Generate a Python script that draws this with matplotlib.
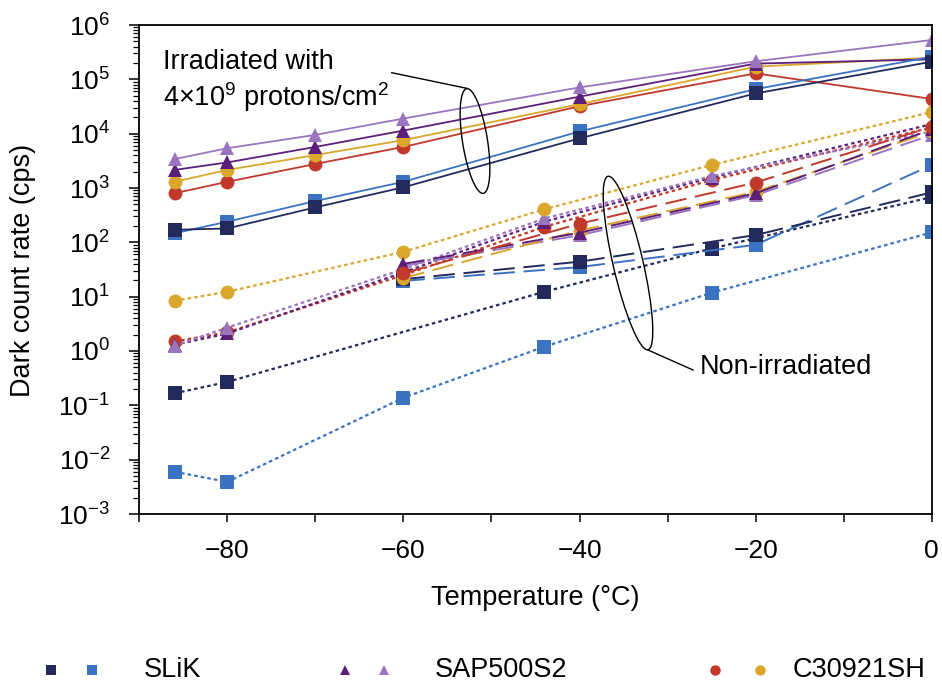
import matplotlib
matplotlib.use("Agg")
import matplotlib.pyplot as plt
from matplotlib.patches import Ellipse
from matplotlib.lines import Line2D
from matplotlib.ticker import FixedLocator, FuncFormatter, LogLocator, NullFormatter

plt.rcParams['font.family'] = ['Liberation Sans', 'DejaVu Sans']
plt.rcParams['mathtext.fontset'] = 'custom'
plt.rcParams['mathtext.rm'] = 'Liberation Sans'
plt.rcParams['mathtext.it'] = 'Liberation Sans:italic'
plt.rcParams['mathtext.default'] = 'regular'

# ---------------- data ----------------
devices = ["SLiK", "SAP500S2", "C30921SH"]
colors = {
    "slik_a": "#232B5C", "slik_b": "#3B73C2",
    "sap_a": "#5C1F7A", "sap_b": "#9A74BE",
    "c_a": "#C0392B", "c_b": "#DAA62C",
}
markers = {"slik_a": "s", "slik_b": "s", "sap_a": "^", "sap_b": "^", "c_a": "o", "c_b": "o"}

# irradiated (solid)
temps_irr = [-86, -80, -70, -60, -40, -20, 0]
slik_a_irr = [170, 180, 440, 1030, 8200, 55000, 211000]
slik_b_irr = [147, 240, 575, 1300, 11000, 66000, 260000]
sap_a_irr = [2150, 2960, 5700, 11400, 48000, 195000, 233000]
sap_b_irr = [3400, 5400, 9500, 19000, 71000, 215000, 530000]
c_a_irr = [800, 1300, 2770, 5700, 32000, 129000, 43500]
c_b_irr = [1300, 2150, 4050, 7600, 35000, 171000, 250000]

# non-irradiated, first set (dotted)
temps_dot = [-86, -80, -60, -44, -25, 0]
temps_dot_slik_a = [-86, -80, -44, -25, 0]
slik_a_dot = [0.166, 0.27, 12.3, 77, 680]
slik_b_dot = [0.006, 0.0039, 0.138, 1.2, 11.8, 152]
sap_a_dot = [1.3, 2.1, 28, 240, 1550, 15000]
sap_b_dot = [1.25, 2.7, 32, 275, 1650, 11000]
c_a_dot = [1.5, 2.2, 25, 193, 1400, 13000]
c_b_dot = [8.4, 12.3, 67, 405, 2650, 25000]

# non-irradiated, second set (dashed)
temps_dash = [-60, -40, -20, 0]
slik_a_dash = [21, 44, 136, 830]
slik_b_dash = [19.5, 35, 90, 2650]
sap_a_dash = [40, 150, 800, 12000]
sap_b_dash = [37, 135, 740, 9500]
c_a_dash = [27, 220, 1260, 13400]
c_b_dash = [22, 165, 850, 11000]

xticks_all = [-90, -80, -70, -60, -50, -40, -30, -20, -10, 0]

# ---------------- figure ----------------
W, H, DPI = 942, 688, 100
fig = plt.figure(figsize=(W / DPI, H / DPI), dpi=DPI)
ax = fig.add_axes([139.3 / W, 1 - 514 / H, (931.7 - 139.3) / W, (514 - 25) / H])

msize = {"s": 10, "^": 10.5, "o": 10}

def plot(key, x, y, ls, lw):
    m = markers[key]
    ax.plot(x, y, color=colors[key], ls=ls, lw=lw, marker=m, ms=msize[m],
            markeredgewidth=0, solid_capstyle='butt', dash_capstyle='butt')

dot = (0, (1.6, 1.4))
dash = (0, (11, 4.5))

# non-irradiated dotted
plot("slik_a", temps_dot_slik_a, slik_a_dot, dot, 1.6)
plot("slik_b", temps_dot, slik_b_dot, dot, 1.6)
plot("c_a", temps_dot, c_a_dot, dot, 1.6)
plot("sap_a", temps_dot, sap_a_dot, dot, 1.6)
plot("sap_b", temps_dot, sap_b_dot, dot, 1.6)
plot("c_b", temps_dot, c_b_dot, dot, 1.6)
# non-irradiated dashed
plot("slik_b", temps_dash, slik_b_dash, dash, 1.4)
plot("slik_a", temps_dash, slik_a_dash, dash, 1.4)
plot("sap_b", temps_dash, sap_b_dash, dash, 1.4)
plot("c_b", temps_dash, c_b_dash, dash, 1.4)
plot("sap_a", temps_dash, sap_a_dash, dash, 1.4)
plot("c_a", temps_dash, c_a_dash, dash, 1.4)
# irradiated solid
plot("c_a", temps_irr, c_a_irr, '-', 1.3)
plot("c_b", temps_irr, c_b_irr, '-', 1.3)
plot("sap_a", temps_irr, sap_a_irr, '-', 1.3)
plot("sap_b", temps_irr, sap_b_irr, '-', 1.3)
plot("slik_b", temps_irr, slik_b_irr, '-', 1.3)
plot("slik_a", temps_irr, slik_a_irr, '-', 1.3)

ax.set_yscale('log')
ax.set_ylim(1e-3, 1e6)
ax.set_xlim(-90, 0)

ax.xaxis.set_major_locator(FixedLocator(xticks_all))
ax.xaxis.set_major_formatter(FuncFormatter(
    lambda v, p: ("\u2212%d" % abs(v) if v < 0 else "%d" % v) if int(round(v)) % 20 == 0 else ""))
ax.yaxis.set_major_locator(LogLocator(base=10, numticks=20))
ax.yaxis.set_minor_locator(LogLocator(base=10, subs=range(2, 10), numticks=200))
ax.yaxis.set_minor_formatter(NullFormatter())

def yfmt(v, p):
    import math
    e = int(round(math.log10(v)))
    s = ("\u2212%d" % abs(e)) if e < 0 else "%d" % e
    return "10$^{%s}$" % s
ax.yaxis.set_major_formatter(FuncFormatter(yfmt))

ax.tick_params(axis='x', which='major', direction='out', length=6, width=1.1,
               pad=12, labelsize=19, top=False)
ax.tick_params(axis='y', which='major', direction='out', length=7, width=1.1,
               pad=14, labelsize=19, right=False)
ax.tick_params(axis='y', which='minor', direction='out', length=4.5, width=0.9, right=False)
for s in ax.spines.values():
    s.set_linewidth(1.3)

ax.set_xlabel("Temperature (\u00b0C)", fontsize=19.5, labelpad=16)
fig.text(23 / W, 1 - 270 / H, "Dark count rate (cps)", rotation=90, fontsize=19.5,
         ha='center', va='center')

# ---------------- annotations (pixel coords from top-left) ----------------
def inch(x, y):
    return (x / DPI, (H - y) / DPI)

fig.text(163 / W, 1 - 62 / H, "Irradiated with", fontsize=19.5, ha='left', va='center')
fig.text(163 / W, 1 - 97 / H, "4\u00d710$^9$ protons/cm$^2$", fontsize=19.5, ha='left', va='center')
fig.add_artist(Line2D([391.7 / DPI, 466.7 / DPI], [(H - 72.7) / DPI, (H - 88.3) / DPI],
                      transform=fig.dpi_scale_trans, color='black', lw=1.0))
fig.add_artist(Ellipse(inch(475, 141), width=25 / DPI, height=106 / DPI, angle=9,
                       transform=fig.dpi_scale_trans, fill=False, ec='black', lw=1.0))

fig.add_artist(Ellipse(inch(628, 263), width=30 / DPI, height=178 / DPI, angle=13,
                       transform=fig.dpi_scale_trans, fill=False, ec='black', lw=1.0))
fig.add_artist(Line2D([648 / DPI, 693 / DPI], [(H - 350) / DPI, (H - 370) / DPI],
                      transform=fig.dpi_scale_trans, color='black', lw=1.0))
fig.text(700 / W, 1 - 367 / H, "Non-irradiated", fontsize=19.5, ha='left', va='center')

# ---------------- legend ----------------
leg_y = 670
legend_items = [
    ("slik_a", "slik_b", 51, 92, 144, devices[0]),
    ("sap_a", "sap_b", 345, 384, 435, devices[1]),
    ("c_a", "c_b", 715, 760, 793, devices[2]),
]
for k1, k2, x1, x2, xt, lab in legend_items:
    for k, xx in ((k1, x1), (k2, x2)):
        m = markers[k]
        fig.add_artist(Line2D([xx / DPI], [(H - leg_y) / DPI], transform=fig.dpi_scale_trans,
                              marker=m, ms=7.5, color=colors[k], markeredgewidth=0, ls='none'))
    fig.text(xt / W, 1 - leg_y / H, lab, fontsize=19.5, ha='left', va='center')

fig.savefig("out.png", dpi=DPI)
